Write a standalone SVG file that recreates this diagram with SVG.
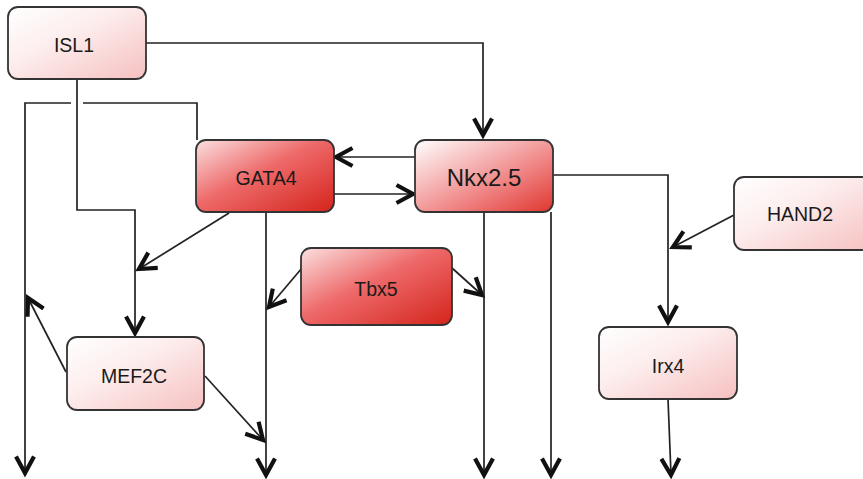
<svg xmlns="http://www.w3.org/2000/svg" width="863" height="479" viewBox="0 0 863 479">
<style>
.box{stroke:#333;stroke-width:1.8}
.lbl{font-family:"Liberation Sans",Arial,sans-serif;font-size:19.5px;fill:#1a1a1a;text-anchor:middle;dominant-baseline:central}
.con{fill:none;stroke:#222;stroke-width:1.7;marker-end:url(#arr)}
.plain{fill:none;stroke:#222;stroke-width:1.7}
</style>
<defs>
<linearGradient id="light" x1="0" y1="0" x2="1" y2="1">
<stop offset="0" stop-color="#ffffff"/>
<stop offset="0.4" stop-color="#fdeeee"/>
<stop offset="1" stop-color="#f6c0c0"/>
</linearGradient>
<linearGradient id="dark" x1="0" y1="0" x2="1" y2="1">
<stop offset="0" stop-color="#fbe0e0"/>
<stop offset="0.45" stop-color="#ee6a6a"/>
<stop offset="1" stop-color="#d4241b"/>
</linearGradient>
<linearGradient id="dark2" x1="0" y1="0" x2="1" y2="1">
<stop offset="0" stop-color="#ffffff"/>
<stop offset="0.6" stop-color="#f08686"/>
<stop offset="1" stop-color="#e0362f"/>
</linearGradient>
<marker id="arr" viewBox="0 0 24 24" refX="20" refY="12" markerWidth="24" markerHeight="24" markerUnits="userSpaceOnUse" orient="auto" overflow="visible">
<path d="M3.5,3 L20,12 L3.5,21" fill="none" stroke="#111" stroke-width="4.2" stroke-linejoin="miter"/>
</marker>
</defs>
<g id="connectors">
<path class="con" d="M146,43 H483 V135"/>
<path class="con" d="M77,80 V210 H135 V333"/>
<path class="plain" d="M197,140 V103 H83"/>
<path class="con" d="M71,103 H25 V473"/>
<path class="con" d="M415,157 H336"/>
<path class="con" d="M334,194 H413"/>
<path class="con" d="M553,175 H668 V322"/>
<path class="con" d="M734,215 L673,247"/>
<path class="con" d="M668,399 L671,475"/>
<path class="con" d="M229,213 L139,269"/>
<path class="con" d="M266,212 V475"/>
<path class="con" d="M302,268 L269,307"/>
<path class="con" d="M452,268 L482,295"/>
<path class="con" d="M484,212 V475"/>
<path class="con" d="M551,212 V475"/>
<path class="con" d="M66,372 L28,298"/>
<path class="con" d="M205,376 L263,440"/>
</g>
<g id="ISL1">
<rect class="box" x="8" y="7" width="138" height="72" rx="10" fill="url(#light)"/>
<text class="lbl" x="74" y="45">ISL1</text>
</g>
<g id="GATA4">
<rect class="box" x="196" y="140" width="138" height="72" rx="10" fill="url(#dark)"/>
<text class="lbl" x="266" y="178">GATA4</text>
</g>
<g id="Nkx2.5">
<rect class="box" x="415" y="140" width="138" height="72" rx="10" fill="url(#dark2)"/>
<text class="lbl" x="484" y="177" style="font-size:24px">Nkx2.5</text>
</g>
<g id="HAND2">
<rect class="box" x="734" y="177" width="138" height="73" rx="10" fill="url(#light)"/>
<text class="lbl" x="800" y="214">HAND2</text>
</g>
<g id="Tbx5">
<rect class="box" x="301" y="248" width="151" height="77" rx="10" fill="url(#dark)"/>
<text class="lbl" x="376" y="289">Tbx5</text>
</g>
<g id="MEF2C">
<rect class="box" x="67" y="337" width="137" height="73" rx="10" fill="url(#light)"/>
<text class="lbl" x="134" y="376">MEF2C</text>
</g>
<g id="Irx4">
<rect class="box" x="599" y="327" width="138" height="72" rx="10" fill="url(#light)"/>
<text class="lbl" x="668" y="366">Irx4</text>
</g>
</svg>
